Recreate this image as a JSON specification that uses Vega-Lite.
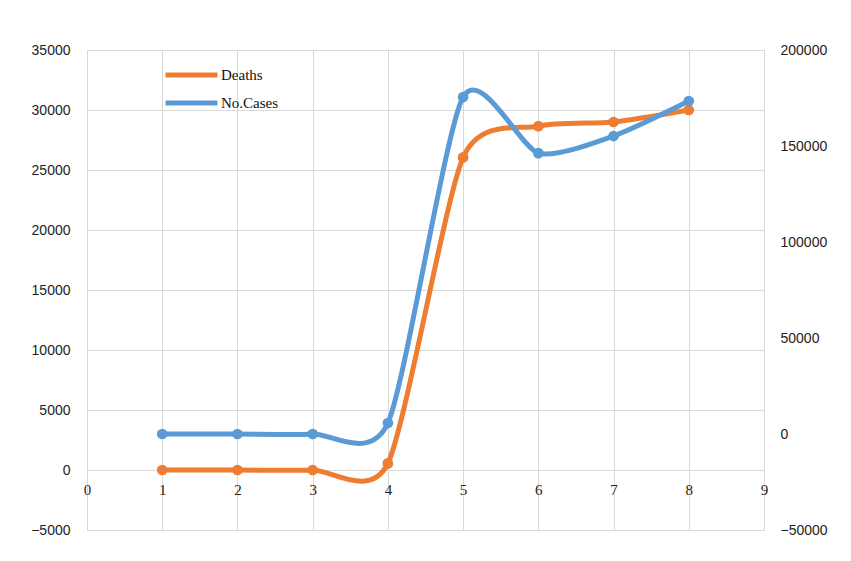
{
  "$schema": "https://vega.github.io/schema/vega-lite/v6.json",
  "autosize": "none",
  "padding": {"left": 87, "top": 50, "right": 87, "bottom": 31},
  "width": 677,
  "height": 480,
  "background": "white",
  "data": {
    "values": [
      {"day": 1, "series": "Deaths", "value": 0},
      {"day": 2, "series": "Deaths", "value": 0},
      {"day": 3, "series": "Deaths", "value": 0},
      {"day": 4, "series": "Deaths", "value": 550},
      {"day": 5, "series": "Deaths", "value": 26050},
      {"day": 6, "series": "Deaths", "value": 28650},
      {"day": 7, "series": "Deaths", "value": 29000},
      {"day": 8, "series": "Deaths", "value": 30000},
      {"day": 1, "series": "No.Cases", "value": 0},
      {"day": 2, "series": "No.Cases", "value": 0},
      {"day": 3, "series": "No.Cases", "value": 0},
      {"day": 4, "series": "No.Cases", "value": 5700},
      {"day": 5, "series": "No.Cases", "value": 175500},
      {"day": 6, "series": "No.Cases", "value": 146300},
      {"day": 7, "series": "No.Cases", "value": 155200},
      {"day": 8, "series": "No.Cases", "value": 173400}
    ]
  },
  "encoding": {
    "x": {
      "field": "day",
      "type": "quantitative",
      "scale": {"domain": [0, 9], "nice": false, "zero": false},
      "axis": {
        "title": null,
        "values": [0, 1, 2, 3, 4, 5, 6, 7, 8, 9],
        "format": "d",
        "domain": false,
        "ticks": false,
        "grid": true,
        "gridColor": "#d9d9d9",
        "offset": -60,
        "labelPadding": 12,
        "labelFont": "Liberation Serif",
        "labelFontSize": 15,
        "labelColor": "#222222",
        "labelFlush": false
      }
    },
    "color": {
      "field": "series",
      "type": "nominal",
      "scale": {"domain": ["Deaths", "No.Cases"], "range": ["#ED7D31", "#5B9BD5"]},
      "legend": {
        "title": null,
        "orient": "none",
        "legendX": 76,
        "legendY": 15,
        "symbolType": "stroke",
        "symbolSize": 2700,
        "symbolStrokeWidth": 5,
        "clipHeight": 20,
        "rowPadding": 8,
        "labelOffset": 1,
        "labelFont": "Liberation Serif",
        "labelFontSize": 15,
        "labelColor": "#111111"
      }
    }
  },
  "layer": [
    {
      "transform": [{"filter": "datum.series === 'Deaths'"}],
      "mark": {
        "type": "line",
        "interpolate": "cardinal",
        "tension": 0.3,
        "strokeWidth": 5,
        "strokeCap": "round",
        "point": {"filled": true, "size": 115}
      },
      "encoding": {
        "y": {
          "field": "value",
          "type": "quantitative",
          "scale": {"domain": [-5000, 35000], "nice": false, "zero": false},
          "axis": {
            "title": null,
            "orient": "left",
            "values": [-5000, 0, 5000, 10000, 15000, 20000, 25000, 30000, 35000],
            "format": "d",
            "domain": false,
            "ticks": false,
            "grid": true,
            "gridColor": "#d9d9d9",
            "labelPadding": 17,
            "labelFont": "Liberation Sans",
            "labelFontSize": 14,
            "labelColor": "#222222"
          }
        }
      }
    },
    {
      "transform": [{"filter": "datum.series === 'No.Cases'"}],
      "mark": {
        "type": "line",
        "interpolate": "cardinal",
        "tension": 0.3,
        "strokeWidth": 5,
        "strokeCap": "round",
        "point": {"filled": true, "size": 115}
      },
      "encoding": {
        "y": {
          "field": "value",
          "type": "quantitative",
          "scale": {"domain": [-50000, 200000], "nice": false, "zero": false},
          "axis": {
            "title": null,
            "orient": "right",
            "values": [-50000, 0, 50000, 100000, 150000, 200000],
            "format": "d",
            "domain": false,
            "ticks": false,
            "grid": false,
            "labelPadding": 16,
            "labelFont": "Liberation Sans",
            "labelFontSize": 14,
            "labelColor": "#222222"
          }
        }
      }
    }
  ],
  "resolve": {"scale": {"y": "independent"}},
  "config": {"view": {"stroke": null}}
}
